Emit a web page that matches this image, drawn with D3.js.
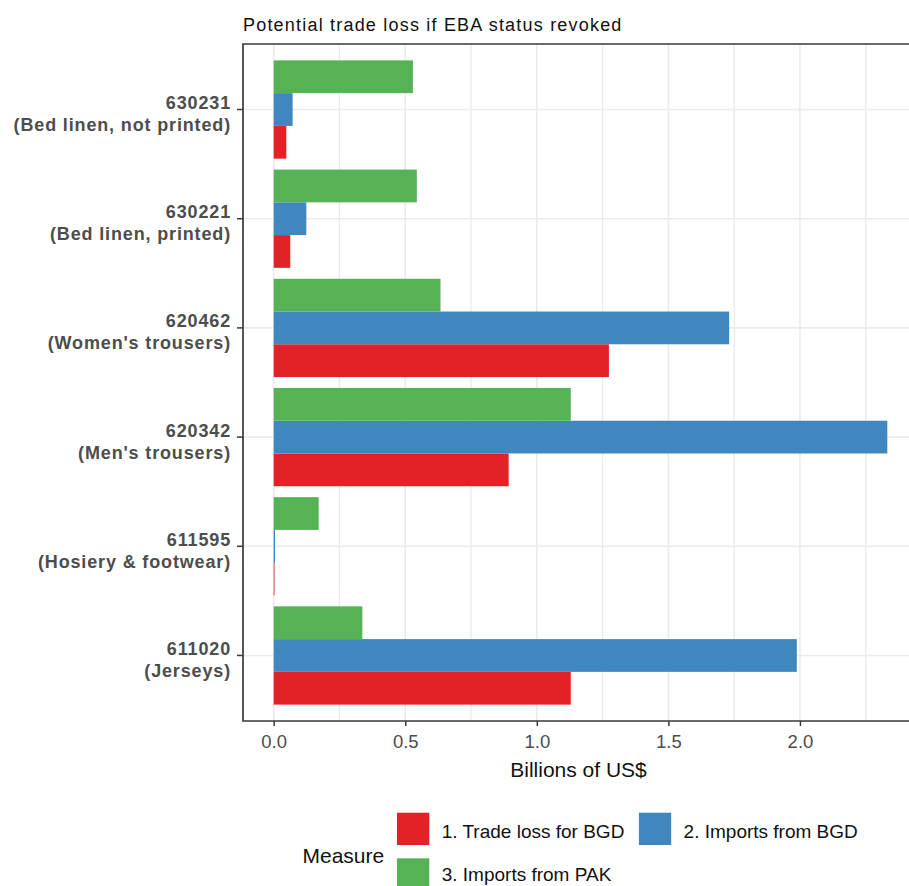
<!DOCTYPE html>
<html>
<head>
<meta charset="utf-8">
<script src="https://cdn.jsdelivr.net/npm/d3@7"></script>
<style>
  html, body { margin: 0; padding: 0; background: #fff; }
  svg { display: block; font-family: "Liberation Sans", Arial, sans-serif; }
</style>
</head>
<body>
<svg id="chart" width="909" height="886"></svg>
<script>
// ---- data ----
const codes = ["630231", "630221", "620462", "620342", "611595", "611020"];
const descriptions = ["(Bed linen, not printed)", "(Bed linen, printed)", "(Women's trousers)", "(Men's trousers)", "(Hosiery & footwear)", "(Jerseys)"];
const measures = ["1. Trade loss for BGD", "2. Imports from BGD", "3. Imports from PAK"];
const tradeLossBGD = [0.048, 0.063, 1.274, 0.893, 0.003, 1.129];
const importsBGD   = [0.072, 0.124, 1.731, 2.332, 0.005, 1.988];
const importsPAK   = [0.529, 0.544, 0.634, 1.129, 0.171, 0.337];
const xTicks = [0, 0.5, 1.0, 1.5, 2.0];
const xMinorTicks = [0.25, 0.75, 1.25, 1.75, 2.25];
const titleText = "Potential trade loss if EBA status revoked";
const xTitle = "Billions of US$";
const legendTitle = "Measure";
const colors = ["#E42126", "#4087BF", "#56B355"];

const seriesValues = [tradeLossBGD, importsBGD, importsPAK];

// ---- layout ----
const svg = d3.select("#chart");
const panel = { left: 243, top: 44, bottom: 721, width: 675 };
const maxV = d3.max(seriesValues.flat());
const x = d3.scaleLinear()
  .domain([-0.05 * maxV, 1.05 * maxV])
  .range([panel.left, panel.left + panel.width]);

const y = d3.scaleBand().domain(codes)
  .range([panel.top, panel.bottom])
  .paddingInner(0.1).paddingOuter(0.15);
// top-to-bottom within a group: PAK, BGD imports, trade loss
const ySub = d3.scaleBand().domain([2, 1, 0]).range([0, y.bandwidth()]);
const yCenter = c => y(c) + y.bandwidth() / 2;

const g = svg.append("g");

// grid
const gridColor = "#EBEBEB";
g.selectAll(".gminor").data(xMinorTicks).join("line")
  .attr("x1", d => x(d)).attr("x2", d => x(d))
  .attr("y1", panel.top).attr("y2", panel.bottom)
  .attr("stroke", gridColor).attr("stroke-width", 1.3);
g.selectAll(".gmajor").data(xTicks).join("line")
  .attr("x1", d => x(d)).attr("x2", d => x(d))
  .attr("y1", panel.top).attr("y2", panel.bottom)
  .attr("stroke", gridColor).attr("stroke-width", 1.6);
g.selectAll(".gy").data(codes).join("line")
  .attr("x1", panel.left).attr("x2", panel.left + panel.width)
  .attr("y1", d => yCenter(d)).attr("y2", d => yCenter(d))
  .attr("stroke", gridColor).attr("stroke-width", 1.6);

// bars
const barData = [];
codes.forEach((c, i) => {
  seriesValues.forEach((vals, s) => barData.push({ code: c, s, v: vals[i] }));
});
g.selectAll(".bar").data(barData).join("rect")
  .attr("x", x(0))
  .attr("y", d => y(d.code) + ySub(d.s))
  .attr("width", d => Math.max(0.8, x(d.v) - x(0)))
  .attr("height", ySub.bandwidth())
  .attr("fill", d => colors[d.s]);

// panel border
const border = "#3a3a3a";
svg.append("path")
  .attr("d", `M${panel.left + panel.width},${panel.top}H${panel.left}V${panel.bottom}H${panel.left + panel.width}`)
  .attr("fill", "none").attr("stroke", border).attr("stroke-width", 1.7);

// x axis ticks and labels
const xAxis = d3.axisBottom(x).tickValues(xTicks).tickFormat(d3.format(".1f")).tickSizeOuter(0).tickSizeInner(5).tickPadding(9);
const xa = svg.append("g").attr("transform", `translate(0,${panel.bottom})`).call(xAxis);
xa.select(".domain").remove();
xa.selectAll(".tick line").attr("stroke", border).attr("stroke-width", 1.5);
xa.selectAll(".tick text").attr("fill", "#4D4D4D").attr("font-size", 18.5)
  .attr("font-family", "Liberation Sans, Arial, sans-serif").attr("dy", "0.72em");

// y axis ticks
const yAxis = d3.axisLeft(y).tickSizeOuter(0).tickSizeInner(6).tickFormat("");
const ya = svg.append("g").attr("transform", `translate(${panel.left},0)`).call(yAxis);
ya.select(".domain").remove();
ya.selectAll(".tick line").attr("stroke", border).attr("stroke-width", 1.5);
ya.selectAll(".tick text").remove();

// y labels (two lines)
const yl = svg.append("g");
codes.forEach((c, i) => {
  const t = yl.append("text")
    .attr("text-anchor", "end")
    .attr("font-weight", "bold")
    .attr("font-size", 18)
    .attr("letter-spacing", 0.85)
    .attr("fill", "#4D4D4D");
  t.append("tspan").attr("x", 231).attr("y", yCenter(c) - 0.5).text(c);
  t.append("tspan").attr("x", 231).attr("y", yCenter(c) + 21.5).text(descriptions[i]);
});

// title
svg.append("text").attr("x", 243).attr("y", 30.5)
  .attr("font-size", 18).attr("letter-spacing", 1.2)
  .attr("fill", "#111").text(titleText);

// x title
svg.append("text").attr("x", 578.5).attr("y", 777)
  .attr("text-anchor", "middle").attr("font-size", 21)
  .attr("fill", "#111").text(xTitle);

// legend
const lg = svg.append("g");
lg.append("text").attr("x", 302.5).attr("y", 863.3)
  .attr("font-size", 21).attr("fill", "#111").text(legendTitle);
const keyX0 = 397, keyY0 = 812.7, keySize = 32.3, rowStep = 45.6, labelGap = 12.4, colGap = 14.5;
let cx = keyX0;
measures.forEach((m, i) => {
  const row = Math.floor(i / 2), col = i % 2;
  if (col === 0) cx = keyX0;
  const ky = keyY0 + row * rowStep;
  lg.append("rect").attr("x", cx).attr("y", ky)
    .attr("width", keySize).attr("height", keySize).attr("fill", colors[i]);
  const t = lg.append("text").attr("x", cx + keySize + labelGap)
    .attr("y", Math.min(ky + 25.6, 881))
    .attr("font-size", 19).attr("fill", "#111").text(m);
  cx = cx + keySize + labelGap + t.node().getComputedTextLength() + colGap;
});
</script>
</body>
</html>
